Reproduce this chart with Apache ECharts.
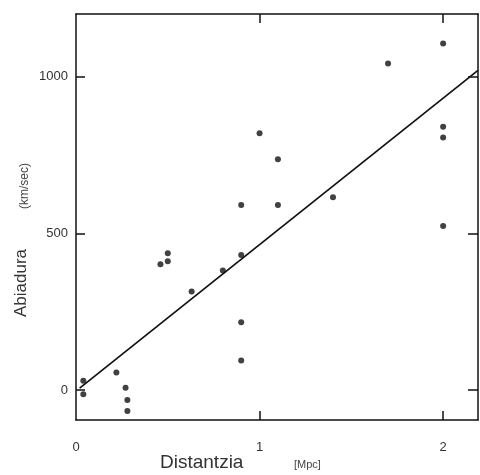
<!DOCTYPE html>
<html>
<head>
<meta charset="utf-8">
<script src="https://cdn.jsdelivr.net/npm/echarts@6/dist/echarts.min.js"></script>
<style>
  html, body { margin: 0; padding: 0; background: #fff; }
  #chart { width: 480px; height: 475px; }
</style>
</head>
<body>
<div id="chart"></div>
<script>
// Hubble galaxies: distance (Mpc) / velocity (km/sec)
var distances = [0.04, 0.04, 0.22, 0.27, 0.28, 0.28, 0.46, 0.5, 0.5, 0.63, 0.8, 0.9,
                 0.9, 0.9, 0.9, 1.0, 1.1, 1.1, 1.4, 1.7, 2.0, 2.0, 2.0, 2.0];
var velocities = [29, -14, 56, 7, -32, -67, 401, 411, 436, 314, 381, 431,
                  590, 216, 94, 819, 590, 736, 615, 1042, 1106, 840, 806, 523];
// fitted line ends
var fitX = [0.02, 2.19];
var fitY = [6, 1020];
var xTicks = [0, 1, 2];
var yTicks = [0, 500, 1000];

var points = distances.map(function (d, i) { return [d, velocities[i]]; });
var fitLine = fitX.map(function (x, i) { return [x, fitY[i]]; });

var axisCol = '#111';
var font = 'Liberation Sans, Arial, sans-serif';
var plain = function (v) { return String(v); };

var chart = echarts.init(document.getElementById('chart'));
chart.setOption({
  backgroundColor: '#fff',
  animation: false,
  grid: { left: 76, right: 2, top: 14, bottom: 55 },
  xAxis: [{
    type: 'value', min: 0, max: 2.19, position: 'bottom',
    axisLine: { onZero: false, lineStyle: { color: axisCol, width: 1.5 } },
    axisTick: { inside: true, length: 9, customValues: [1, 2], lineStyle: { color: axisCol, width: 1.5 } },
    axisLabel: { customValues: xTicks, formatter: plain, margin: 21, color: '#333', fontSize: 13, fontFamily: font },
    splitLine: { show: false }
  }, {
    type: 'value', min: 0, max: 2.19, position: 'top',
    axisLine: { onZero: false, lineStyle: { color: axisCol, width: 1.5 } },
    axisTick: { inside: true, length: 9, customValues: [1, 2], lineStyle: { color: axisCol, width: 1.5 } },
    axisLabel: { show: false },
    splitLine: { show: false }
  }],
  yAxis: [{
    type: 'value', min: -96, max: 1200, position: 'left',
    axisLine: { onZero: false, lineStyle: { color: axisCol, width: 1.5 } },
    axisTick: { inside: true, length: 9, customValues: yTicks, lineStyle: { color: axisCol, width: 1.5 } },
    axisLabel: { customValues: yTicks, formatter: plain, margin: 8, padding: [8, 0, 0, 0], color: '#333', fontSize: 13, fontFamily: font },
    splitLine: { show: false }
  }, {
    type: 'value', min: -96, max: 1200, position: 'right',
    axisLine: { onZero: false, lineStyle: { color: axisCol, width: 1.5 } },
    axisTick: { inside: true, length: 10, customValues: yTicks, lineStyle: { color: axisCol, width: 1.5 } },
    axisLabel: { show: false },
    splitLine: { show: false }
  }],
  series: [{
    type: 'line',
    data: fitLine,
    symbol: 'none',
    lineStyle: { color: '#111', width: 1.7 },
    z: 2
  }, {
    type: 'scatter',
    data: points,
    symbolSize: 6,
    itemStyle: { color: '#111' },
    z: 3
  }],
  graphic: [
    { type: 'text', left: 160, top: 453, style: { text: 'Distantzia', fontSize: 19, fontFamily: font, fill: '#333' } },
    { type: 'text', left: 294, top: 459, style: { text: '[Mpc]', fontSize: 11, fontFamily: font, fill: '#444' } },
    { type: 'text', x: 21, y: 283, rotation: Math.PI / 2,
      style: { text: 'Abiadura', fontSize: 17, fontFamily: font, fill: '#333', align: 'center', verticalAlign: 'middle' } },
    { type: 'text', x: 25, y: 186, rotation: Math.PI / 2,
      style: { text: '(km/sec)', fontSize: 12, fontFamily: font, fill: '#444', align: 'center', verticalAlign: 'middle' } }
  ]
});
</script>
</body>
</html>
